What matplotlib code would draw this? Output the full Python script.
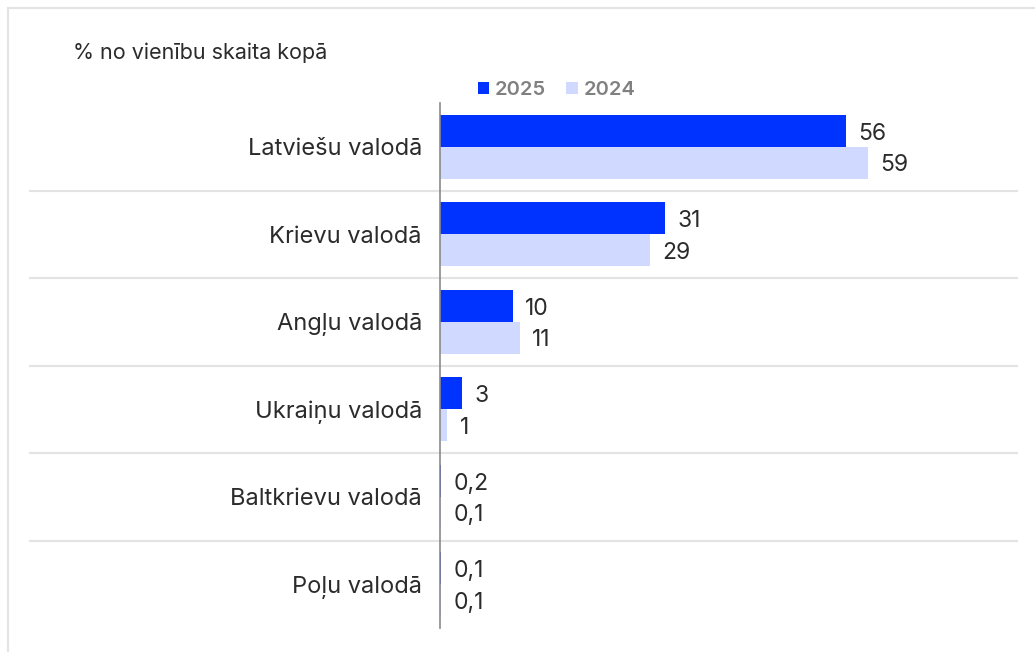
import matplotlib.pyplot as plt
from matplotlib.patches import Rectangle

plt.rcParams['font.family'] = ['Inter', 'DejaVu Sans']

# dati
categories = ['Latviešu valodā', 'Krievu valodā', 'Angļu valodā',
              'Ukraiņu valodā', 'Baltkrievu valodā', 'Poļu valodā']
values_2025 = [56, 31, 10, 3, 0.2, 0.1]
values_2024 = [59, 29, 11, 1, 0.1, 0.1]
series_names = ['2025', '2024']

c_2025 = '#0033ff'
c_2024 = '#d0d9ff'
text_c = '#2b2b2b'

W, H = 1035, 652
fig = plt.figure(figsize=(W / 100, H / 100), dpi=100)

# rāmis ap attēlu
fig.patches.append(Rectangle((8 / W, -0.05), 1.1, 1 - 8 / H + 0.05,
                             transform=fig.transFigure, fill=False,
                             edgecolor='#e3e3e3', linewidth=1.5))

ax = fig.add_axes([440 / W, 1 - 628 / H, 577 / W, 525 / H])

def fmt(v):
    return str(int(v)) if v >= 1 else f'{v:.1f}'.replace('.', ',')

h = 0.365
ys = list(range(len(categories)))
ax.barh([y - h / 2 for y in ys], values_2025, height=h, color=c_2025,
        label=series_names[0])
ax.barh([y + h / 2 for y in ys], values_2024, height=h, color=c_2024,
        label=series_names[1])

for y, v1, v2 in zip(ys, values_2025, values_2024):
    ax.annotate(fmt(v1), (v1, y - h / 2), xytext=(9, -2), textcoords='offset points',
                ha='left', va='center', fontsize=16.5, color=text_c)
    ax.annotate(fmt(v2), (v2, y + h / 2), xytext=(9, -2), textcoords='offset points',
                ha='left', va='center', fontsize=16.5, color=text_c)

# atdalītāji starp kategorijām
for y in ys[:-1]:
    ax.axhline(y + 0.5, xmin=-410 / 577, xmax=1, color='#e3e3e3',
               linewidth=1.5, clip_on=False)

ax.set_xlim(0, 577 / 7.25)
ax.set_ylim(len(categories) - 0.5, -0.5)
ax.set_yticks(ys)
ax.set_yticklabels(categories, fontsize=17, color=text_c)
ax.tick_params(axis='y', length=0, pad=13)
ax.set_xticks([])
for s in ['top', 'right', 'bottom']:
    ax.spines[s].set_visible(False)
ax.spines['left'].set_color('#8a8a8a')
ax.spines['left'].set_linewidth(1.2)

fig.text(73 / W, 1 - 53 / H, '% no vienību skaita kopā', fontsize=15.5,
         color=text_c, va='center', ha='left')

leg = fig.legend(loc='center left', bbox_to_anchor=(468 / W, 1 - 90 / H),
                 ncol=2, frameon=False, fontsize=14.5, handlelength=0.55,
                 handleheight=0.55, handletextpad=0.3, columnspacing=1.0,
                 borderpad=0)
for t in leg.get_texts():
    t.set_color('#808080')
    t.set_fontweight('semibold')

fig.savefig('out.png', dpi=100)
